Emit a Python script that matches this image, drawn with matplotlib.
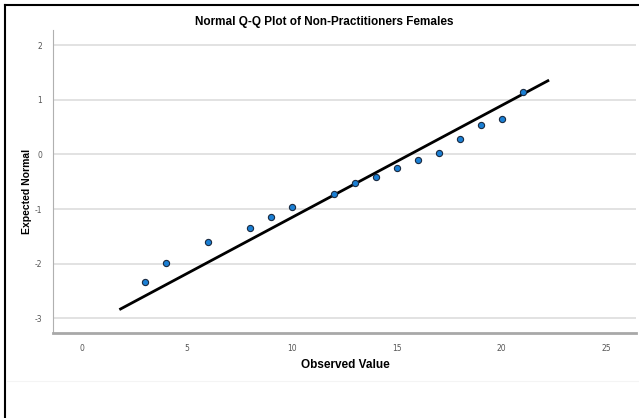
import matplotlib.pyplot as plt
import numpy as np

plt.rcParams['axes.unicode_minus'] = False

observed = [3, 4, 6, 8, 9, 10, 12, 13, 14, 15, 16, 17, 18, 19, 20, 21]
expected = [-2.34, -1.98, -1.61, -1.35, -1.14, -0.97, -0.72, -0.53,
            -0.41, -0.24, -0.10, 0.02, 0.28, 0.54, 0.65, 1.14]
line_x = [1.84, 22.2]
line_y = [-2.83, 1.35]
xticks = [0, 5, 10, 15, 20, 25]
yticks = [-3, -2, -1, 0, 1, 2]

fig = plt.figure(figsize=(6.39, 4.18), dpi=100)
ax = fig.add_axes([53/639, 85/418, (636-53)/639, (333-30)/418])

ax.set_xlim(-1.38, 26.4)
ax.set_ylim(-3.27, 2.28)
ax.set_xticks(xticks)
ax.set_yticks(yticks)
ax.tick_params(length=0, labelsize=5.5, labelcolor='#555555', pad=8)
ax.grid(axis='y', color='#dddddd', linewidth=1.2)
ax.set_axisbelow(True)

for s in ['top', 'right']:
    ax.spines[s].set_visible(False)
ax.spines['left'].set_color('#b0b0b0')
ax.spines['left'].set_linewidth(0.8)
ax.spines['bottom'].set_color('#a8a8a8')
ax.spines['bottom'].set_linewidth(2)

ax.plot(line_x, line_y, color='black', linewidth=2, zorder=2)
ax.scatter(observed, expected, s=20, color='#1a7fd4', edgecolor='#1a2a40',
           linewidth=0.8, zorder=3)

fig.text(324/639, 1 - 22/418, 'Normal Q-Q Plot of Non-Practitioners Females',
         ha='center', va='center', fontsize=8.5, fontweight='bold', family='Liberation Sans')
fig.text(345/639, 1 - 365/418, 'Observed Value', ha='center', va='center',
         fontsize=8.5, fontweight='bold', family='Liberation Sans')
fig.text(27/639, 1 - 191/418, 'Expected Normal', ha='center', va='center',
         rotation=90, fontsize=7.5, fontweight='bold', family='Liberation Sans')

# outer frame (top and left) and faint separator
fig.add_artist(plt.Line2D([5/639, 1], [1 - 5/418, 1 - 5/418], color='black', linewidth=1.5))
fig.add_artist(plt.Line2D([5/639, 5/639], [0, 1 - 5/418], color='black', linewidth=1.5))
fig.add_artist(plt.Line2D([7/639, 1], [1 - 381/418, 1 - 381/418], color='#f4f4f4', linewidth=0.8))

fig.savefig('out.png', dpi=100)
